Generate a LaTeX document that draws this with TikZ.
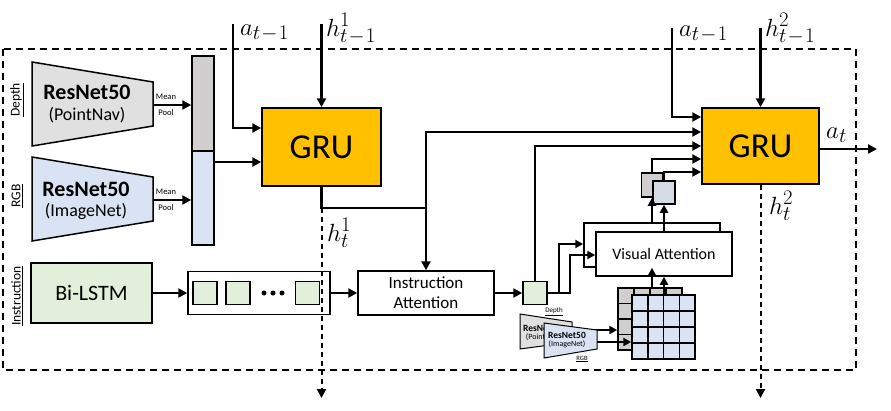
\documentclass[tikz,border=0pt]{standalone}
\usepackage{fontspec}
\setmainfont{Carlito}
\usetikzlibrary{arrows.meta}
\definecolor{gruor}{HTML}{FFC000}
\definecolor{dgray}{HTML}{E0E0E0}
\definecolor{cgray}{HTML}{D0CECE}
\definecolor{lblue}{HTML}{DAE3F3}
\definecolor{lgreen}{HTML}{E2EFDA}
\definecolor{sblue}{HTML}{D6DCE5}
\newcommand{\tmo}{t\mskip1mu{-}\mskip1mu1}
\begin{document}
\begin{tikzpicture}[x=1pt,y=-1pt,
  bx/.style={draw, line width=1.5pt, inner sep=0pt, align=center},
  ln/.style={line width=2.4pt},
  arr/.style={line width=2.4pt, -{Triangle[length=9pt,width=9pt]}},
  darr/.style={line width=2.4pt, {Triangle[length=9pt,width=9pt]}-{Triangle[length=9pt,width=9pt]}},
  sarr/.style={line width=2.2pt, -{Triangle[length=8pt,width=8pt]}},
  dsh/.style={line width=2pt, dash pattern=on 5pt off 4pt, -{Triangle[length=9pt,width=9pt]}},
  trap/.style={draw, line width=1.5pt},
  mth/.style={font=\fontsize{24.88}{28}\selectfont, inner sep=0pt},
  side/.style={rotate=90, font=\fontsize{13.5}{14}\selectfont},
  gru/.style={bx, fill=gruor, font=\fontsize{35}{40}\selectfont},
  tiny/.style={font=\fontsize{8.5}{9}\selectfont, inner sep=0pt}
]
\useasboundingbox (0,0) rectangle (891,410);
% frame
\draw[line width=1.3pt, dash pattern=on 7pt off 5pt] (3,49) rectangle (856,370);

% side labels
\node[side] (ldepth) at (17,100) {\underline{Depth}};
\node[side] (lrgb) at (17,196) {\underline{RGB}};
\node[side] (linstr) at (17,296) {\underline{Instruction}};

% ResNet trapezoids
\draw[trap, fill=dgray] (32,62) -- (153,82) -- (153,126) -- (32,146) -- cycle;
\node[font=\fontsize{22}{24}\selectfont\bfseries] (dt1) at (87,92) {ResNet50};
\node[font=\fontsize{18}{20}\selectfont] (dt2) at (87,115) {(PointNav)};
\draw[trap, fill=lblue] (32,157) -- (153,177) -- (153,221) -- (32,241) -- cycle;
\node[font=\fontsize{22}{24}\selectfont\bfseries] (rt1) at (86,189) {ResNet50};
\node[font=\fontsize{18}{20}\selectfont] (rt2) at (86,211) {(ImageNet)};

% feature column
\node[bx, fill=cgray, minimum width=22pt, minimum height=95pt] (coltop) at (203,103.5) {};
\node[bx, fill=lblue, minimum width=22pt, minimum height=94pt] (colbot) at (203,198) {};

\coordinate (dout) at (153,105);
\coordinate (rout) at (153,200);
\draw[arr] (dout) -- (dout -| coltop.west);
\draw[arr] (rout) -- (rout -| colbot.west);
\node[tiny] (m1) at (166,97) {Mean};
\node[tiny] (p1) at (166,113) {Pool};
\node[tiny] (m2) at (166,192) {Mean};
\node[tiny] (p2) at (166,208) {Pool};

% GRUs
\node[gru, minimum width=119pt, minimum height=78pt] (gru1) at (321.5,147) {GRU};
\node[gru, minimum width=117pt, minimum height=76pt] (gru2) at (760.5,146) {GRU};

% inputs of GRU1
\coordinate (a1top) at (233,24);
\coordinate (h1top) at (321.5,24);
\draw[arr] (a1top) -- (233,128) -- (gru1.west |- 0,128);
\draw[arr] (h1top) -- (gru1.north);
\draw[arr] (colbot.east |- 0,162) -- (gru1.west |- 0,162);
\node[mth, anchor=base west] (la1) at (240,35) {$a_{\tmo}$};
\node[mth, anchor=base west] (lh1) at (326,36) {$h^1_{\tmo}$};

% instruction branch
\node[bx, fill=lgreen, minimum width=121pt, minimum height=60pt, font=\fontsize{22}{24}\selectfont] (bilstm) at (91.5,293) {Bi-LSTM};
\node[bx, fill=white, minimum width=142pt, minimum height=43pt] (tok) at (259,293) {};
\node[bx, fill=lgreen, minimum width=24pt, minimum height=23pt] (tokA) at (205,293) {};
\node[bx, fill=lgreen, minimum width=24pt, minimum height=23pt] (tokB) at (238,293) {};
\node[bx, fill=lgreen, minimum width=24pt, minimum height=23pt] (tokC) at (307.5,293) {};
\node[circle, fill, inner sep=0pt, minimum size=5pt] (d1) at (264,293) {};
\node[circle, fill, inner sep=0pt, minimum size=5pt] (d2) at (273,293) {};
\node[circle, fill, inner sep=0pt, minimum size=5pt] (d3) at (282,293) {};
\draw[arr] (bilstm.east) -- (tok.west);

\node[bx, fill=white, minimum width=136pt, minimum height=44pt, font=\fontsize{17}{20}\selectfont] (ia) at (426,293) {Instruction\\Attention};
\draw[arr] (tok.east) -- (ia.west);
\node[bx, fill=lgreen, minimum width=24pt, minimum height=23pt] (gsq) at (535,293) {};
\draw[arr] (ia.east) -- (gsq.west);

% GRU1 output
\draw[ln] (gru1.south) -- (321.5,208) -- (ia.north |- 0,208);
\draw[darr] (ia.north) -- (ia.north |- 0,132) -- (gru2.west |- 0,132);
\draw[dsh] (321.5,208) -- (321.5,398);
\node[mth, anchor=base west] (lh1t) at (327,241) {$h^1_t$};

% visual attention
\node[bx, fill=white, minimum width=136pt, minimum height=44pt] (vab) at (652,245) {};
\node[bx, fill=white, minimum width=136pt, minimum height=44pt, font=\fontsize{16}{18}\selectfont] (vaf) at (664,254) {Visual Attention};
\draw[arr] (gsq.north) -- (gsq.north |- 0,146) -- (gru2.west |- 0,146);
\draw[sarr] (gsq.east) -- (559,293) -- (559,244) -- (vab.west |- 0,244);
\draw[sarr] (gsq.east) -- (570,293) -- (570,255) -- (vaf.west |- 0,255);

% small squares
\node[bx, fill=cgray, minimum width=21pt, minimum height=24pt] (sqg) at (652,185) {};
\node[bx, fill=sblue, minimum width=22pt, minimum height=23pt] (sqb) at (664,192.5) {};
\draw[sarr] (vab.north) -- (sqg.south);
\draw[sarr] (vaf.north) -- (sqb.south);
\draw[arr] (sqg.north) -- (sqg.north |- 0,159) -- (gru2.west |- 0,159);
\draw[arr] (sqb.north) -- (sqb.north |- 0,172) -- (gru2.west |- 0,172);

% grids
\node[bx, fill=cgray, minimum width=64pt, minimum height=62pt] (gridg) at (650,319) {};
\foreach \k in {1,2,3} {
  \draw[line width=1.5pt] (618+\k*16,288) -- (618+\k*16,350);
  \draw[line width=1.5pt] (618,288+\k*15.5) -- (682,288+\k*15.5);
}
\node[bx, fill=lblue, minimum width=63pt, minimum height=64pt] (gridb) at (663.5,327) {};
\foreach \k in {1,2,3} {
  \draw[line width=1.5pt] (632+\k*15.75,295) -- (632+\k*15.75,359);
  \draw[line width=1.5pt] (632,295+\k*16) -- (695,295+\k*16);
}
\draw[sarr] (vab.south |- gridg.north) -- (vab.south);
\draw[sarr] (vaf.south |- gridb.north) -- (vaf.south);

% mini ResNets
\draw[line width=1pt, fill=dgray] (520,314) -- (572,322) -- (572,342) -- (520,349) -- cycle;
\node[font=\fontsize{9.5}{10}\selectfont\bfseries, inner sep=0pt] (mg1) at (542,328.5) {ResNet50};
\node[font=\fontsize{8}{9}\selectfont, inner sep=0pt] (mg2) at (543,337) {(PointNav)};
\coordinate (mgout) at (572,330);
\draw[sarr] (mgout) -- (mgout -| gridg.west);
\draw[line width=1pt, fill=lblue] (544,323) -- (597,330) -- (597,349) -- (544,358) -- cycle;
\node[font=\fontsize{9.5}{10}\selectfont\bfseries, inner sep=0pt] (mb1) at (567,335.5) {ResNet50};
\node[font=\fontsize{8}{9}\selectfont, inner sep=0pt] (mb2) at (567,344.5) {(ImageNet)};
\coordinate (mbout) at (597,342);
\draw[sarr] (mbout) -- (mbout -| gridb.west);
\node[font=\fontsize{7}{8}\selectfont, inner sep=1pt] (mdep) at (554,312) {\underline{Depth}};
\node[font=\fontsize{6.5}{7}\selectfont, inner sep=1pt] (mrgb) at (582,359) {\underline{RGB}};

% GRU2 inputs / outputs
\coordinate (a2top) at (672,28);
\coordinate (h2top) at (760.5,28);
\draw[arr] (a2top) -- (672,117) -- (gru2.west |- 0,117);
\draw[arr] (h2top) -- (gru2.north);
\node[mth, anchor=base west] (la2) at (679,36) {$a_{\tmo}$};
\node[mth, anchor=base west] (lh2) at (765,36) {$h^2_{\tmo}$};
\coordinate (atend) at (877,149);
\draw[arr] (gru2.east |- atend) -- (atend);
\node[mth, anchor=base west] (lat) at (826,138) {$a_t$};
\draw[dsh] (gru2.south) -- (760.5,398);
\node[mth, anchor=base west] (lh2t) at (769,214) {$h^2_t$};
\end{tikzpicture}
\end{document}
